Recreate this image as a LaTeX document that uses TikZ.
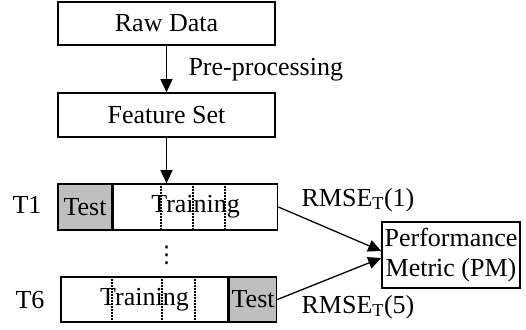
\documentclass[tikz,border=0pt]{standalone}
\usepackage{fontspec}
\setmainfont{Liberation Serif}
\newfontfamily\dotsfont{DejaVu Sans}
\usepackage{tikz}
\usetikzlibrary{arrows.meta,calc}

\begin{document}
\begin{tikzpicture}[x=1pt, y=-1pt, font=\fontsize{26}{30}\selectfont,
		box/.style={draw, line width=1.6pt, inner sep=0pt},
		testbox/.style={box, fill=gray!50},
		arr/.style={line width=1.3pt, -{Triangle[length=13pt, width=12pt]}},
		sep/.style={line width=1.1pt, dash pattern=on 1.5pt off 1.5pt}]
		\useasboundingbox (0,0) rectangle (526,329);

		\node[box, minimum width=217pt, minimum height=43pt] (raw) at (166.5,23.5) {Raw Data};
		\node[box, minimum width=217pt, minimum height=44pt] (feat) at (166.5,115) {Feature Set};

		\draw[arr] (raw) -- (feat);
		\node[anchor=west] (pre) at (185,70) {Pre-processing};

		% first split: test block in front
		\node[testbox, minimum width=54pt, minimum height=46pt] (test1) at (85,207) {Test};
		\node[box, minimum width=164pt, minimum height=46pt, anchor=west] (train1) at (test1.east) {Training};
		\foreach \x in {161,193,225}
			\draw[sep] (\x,0 |- train1.north) -- (\x,0 |- train1.south);
		\node (t1) at (27,205) {T1};

		\draw[arr] (feat.south) -- (feat.south |- train1.north);

		\node[inner sep=0pt, font=\fontsize{23}{25}\dotsfont] (dots) at (166.5,255.5) {⋮};

		% last split: test block at the end
		\node[box, minimum width=167pt, minimum height=45pt] (train6) at (144.5,299.5) {Training};
		\node[testbox, minimum width=47pt, minimum height=45pt, anchor=west] (test6) at (train6.east) {Test};
		\foreach \x in {112,162,195}
			\draw[sep] (\x,0 |- train6.north) -- (\x,0 |- train6.south);
		\node (t6) at (30,300) {T6};

		\node[box, minimum width=138pt, minimum height=66pt, align=center] (pm) at (451,255) {Performance\\Metric (PM)};

		\draw[arr] (train1.east) -- ($(pm.west)+(0,-4)$);
		\draw[arr] (test6.east) -- ($(pm.west)+(0,3)$);

		\node (r1) at (358,200) {RMSE\textsubscript{T}(1)};
		\node (r5) at (358,307) {RMSE\textsubscript{T}(5)};
	\end{tikzpicture}
\end{document}
